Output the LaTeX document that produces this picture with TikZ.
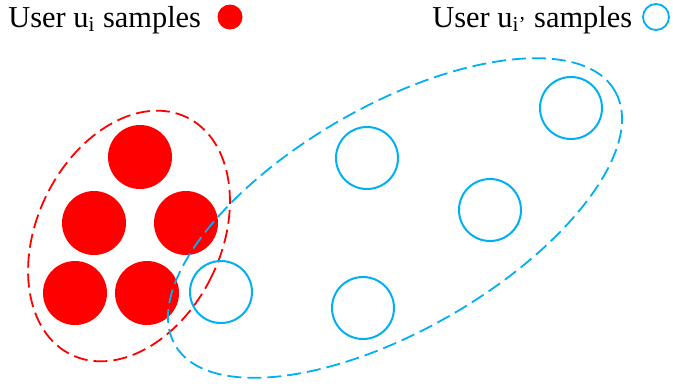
\documentclass[tikz,border=0pt]{standalone}
\usepackage{fontspec}
\setmainfont{Liberation Serif}
\usepackage{tikz}
\definecolor{uRed}{RGB}{255,0,0}
\definecolor{uBlue}{RGB}{0,176,240}
\tikzset{
  sampA/.style = {circle, fill=uRed, minimum size=32pt, inner sep=0},
  sampB/.style = {circle, draw=uBlue, line width=1pt, minimum size=31pt, inner sep=0},
  legA/.style  = {circle, fill=uRed, minimum size=12.5pt, inner sep=0},
  legB/.style  = {circle, draw=uBlue, line width=0.9pt, minimum size=13pt, inner sep=0},
  grpA/.style  = {draw=uRed, line width=0.9pt, dash pattern=on 7pt off 3pt},
  grpB/.style  = {draw=uBlue, line width=0.9pt, dash pattern=on 7pt off 3pt},
  lbl/.style   = {font=\fontsize{15.2}{18}\selectfont, inner sep=0, anchor=base west}
}
\begin{document}
\begin{tikzpicture}[x=0.5pt, y=-0.5pt]

  \useasboundingbox (0,0) rectangle (673,387);

  % legend
  \node[lbl] (tA) at (8,27)   {User u\textsubscript{i} samples};
  \node[legA] (kA) at (230,17) {};
  \node[lbl] (tB) at (432,27) {User u\textsubscript{i’} samples};
  \node[legB] (kB) at (656,17) {};

  % samples of u_i
  \node[sampA] (a1) at (140,157) {};
  \node[sampA] (a2) at ( 94,223) {};
  \node[sampA] (a3) at (186,223) {};
  \node[sampA] (a4) at ( 75,293) {};
  \node[sampA] (a5) at (147,293) {};

  % groups
  \draw[grpA, rotate around={-26:(129,236)}] (129,236) ellipse [x radius=92, y radius=132];
  \draw[grpB, rotate around={30:(395,218)}]  (395,218) ellipse [x radius=254, y radius=112];

  % samples of u_i'
  \node[sampB] (b1) at (221,292) {};
  \node[sampB] (b2) at (367,158) {};
  \node[sampB] (b3) at (363,308) {};
  \node[sampB] (b4) at (490,210) {};
  \node[sampB] (b5) at (571,108) {};

\end{tikzpicture}
\end{document}
